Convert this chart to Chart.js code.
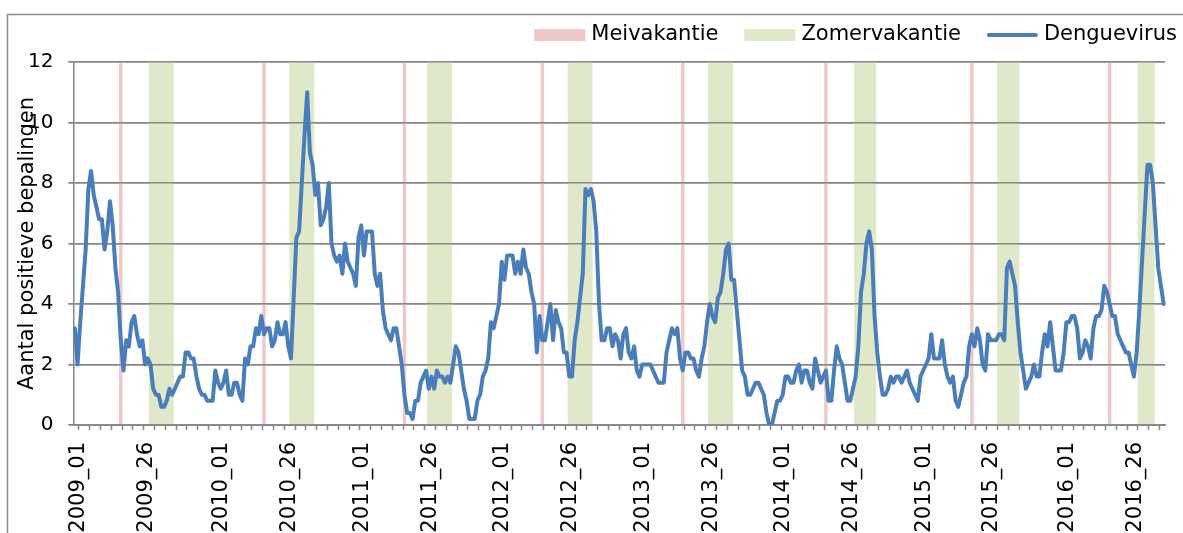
<!DOCTYPE html>
<html>
<head>
<meta charset="utf-8">
<script src="https://cdn.jsdelivr.net/npm/chart.js@4.4.1/dist/chart.umd.min.js"></script>
<style>
html,body{margin:0;padding:0;background:#fff;}
#wrap{width:1183px;height:533px;position:relative;}
</style>
</head>
<body>
<div id="wrap"><canvas id="c" width="1183" height="533"></canvas></div>
<script>
// ---- data ----
const years = [2009, 2010, 2011, 2012, 2013, 2014, 2015, 2016];
const weeksPerYear = [53, 52, 52, 52, 52, 52, 53, 38];
const xLabelWeeks = ['01', '26'];
const yTicks = [0, 2, 4, 6, 8, 10, 12];

const denguevirus = [
  3.2, 2.0, 3.4, 4.6, 5.8, 7.8, 8.4, 7.6, 7.2, 6.8,
  6.8, 5.8, 6.4, 7.4, 6.6, 5.2, 4.4, 2.8, 1.8, 2.8,
  2.6, 3.4, 3.6, 3.0, 2.6, 2.8, 2.0, 2.2, 2.0, 1.2,
  1.0, 1.0, 0.6, 0.6, 0.8, 1.2, 1.0, 1.2, 1.4, 1.6,
  1.6, 2.4, 2.4, 2.2, 2.2, 1.6, 1.2, 1.0, 1.0, 0.8,
  0.8, 0.8, 1.8, 1.4, 1.2, 1.4, 1.8, 1.0, 1.0, 1.4,
  1.4, 1.0, 0.8, 2.2, 2.0, 2.6, 2.6, 3.2, 3.0, 3.6,
  3.0, 3.2, 3.2, 2.6, 2.8, 3.4, 3.0, 3.0, 3.4, 2.6,
  2.2, 4.2, 6.2, 6.4, 8.0, 9.6, 11.0, 9.0, 8.6, 7.6,
  8.0, 6.6, 6.8, 7.2, 8.0, 6.0, 5.6, 5.4, 5.6, 5.0,
  6.0, 5.4, 5.2, 5.0, 4.6, 6.2, 6.6, 5.6, 6.4, 6.4,
  6.4, 5.0, 4.6, 5.0, 3.8, 3.2, 3.0, 2.8, 3.2, 3.2,
  2.6, 2.0, 1.0, 0.4, 0.4, 0.2, 0.8, 0.8, 1.4, 1.6,
  1.8, 1.2, 1.6, 1.2, 1.8, 1.6, 1.6, 1.4, 1.6, 1.4,
  2.0, 2.6, 2.4, 1.8, 1.2, 0.8, 0.2, 0.2, 0.2, 0.8,
  1.0, 1.6, 1.8, 2.2, 3.4, 3.2, 3.6, 4.0, 5.4, 4.8,
  5.6, 5.6, 5.6, 5.0, 5.4, 5.0, 5.8, 5.2, 5.0, 4.4,
  4.0, 2.4, 3.6, 2.8, 2.8, 3.4, 4.0, 2.8, 3.8, 3.4,
  3.2, 2.4, 2.4, 1.6, 1.6, 2.8, 3.4, 4.2, 5.0, 7.8,
  7.6, 7.8, 7.4, 6.4, 4.0, 2.8, 2.8, 3.2, 3.2, 2.6,
  3.0, 2.8, 2.2, 3.0, 3.2, 2.4, 2.2, 2.6, 1.8, 1.6,
  2.0, 2.0, 2.0, 2.0, 1.8, 1.6, 1.4, 1.4, 1.4, 2.4,
  2.8, 3.2, 3.0, 3.2, 2.2, 1.8, 2.4, 2.4, 2.2, 2.2,
  1.8, 1.6, 2.2, 2.6, 3.4, 4.0, 3.6, 3.4, 4.2, 4.4,
  5.0, 5.8, 6.0, 4.8, 4.8, 3.8, 2.8, 1.8, 1.6, 1.0,
  1.0, 1.2, 1.4, 1.4, 1.2, 1.0, 0.4, 0.0, 0.0, 0.4,
  0.8, 0.8, 1.0, 1.6, 1.6, 1.4, 1.4, 1.8, 2.0, 1.4,
  1.8, 1.8, 1.4, 1.2, 2.2, 1.8, 1.4, 1.6, 1.8, 0.8,
  0.8, 1.8, 2.6, 2.2, 2.0, 1.4, 0.8, 0.8, 1.2, 1.6,
  2.6, 4.4, 5.0, 6.0, 6.4, 5.8, 3.6, 2.4, 1.6, 1.0,
  1.0, 1.2, 1.6, 1.4, 1.6, 1.6, 1.4, 1.6, 1.8, 1.4,
  1.2, 1.0, 0.8, 1.6, 1.8, 2.0, 2.2, 3.0, 2.2, 2.2,
  2.2, 2.8, 2.0, 1.6, 1.4, 1.6, 0.8, 0.6, 1.0, 1.4,
  1.6, 2.6, 3.0, 2.6, 3.2, 2.8, 2.0, 1.8, 3.0, 2.8,
  2.8, 2.8, 3.0, 3.0, 2.8, 5.2, 5.4, 5.0, 4.6, 3.4,
  2.4, 1.8, 1.2, 1.4, 1.6, 2.0, 1.6, 1.6, 2.4, 3.0,
  2.6, 3.4, 2.6, 1.8, 1.8, 1.8, 2.4, 3.4, 3.4, 3.6,
  3.6, 3.2, 2.2, 2.4, 2.8, 2.6, 2.2, 3.2, 3.6, 3.6,
  3.8, 4.6, 4.4, 4.0, 3.6, 3.6, 3.0, 2.8, 2.6, 2.4,
  2.4, 2.0, 1.6, 2.4, 3.8, 5.4, 7.0, 8.6, 8.6, 8.0,
  6.6, 5.2, 4.6, 4.0
];

const meivakantie = ['2009_18', '2010_18', '2011_18', '2012_17', '2013_17', '2014_18', '2015_20', '2016_18'];
const zomerStart = ['2009_29', '2010_28', '2011_27', '2012_27', '2013_27', '2014_29', '2015_30', '2016_29'];
const zomerEnd   = ['2009_37', '2010_36', '2011_35', '2012_35', '2013_35', '2014_36', '2015_37', '2016_34'];
const vakantieHoogte = 12;

// ---- build ----
const labels = [];
years.forEach((y, k) => {
  for (let w = 1; w <= weeksPerYear[k]; w++) labels.push(y + '_' + String(w).padStart(2, '0'));
});
const meiData = labels.map(l => meivakantie.includes(l) ? vakantieHoogte : null);
const zomerData = labels.map(l => zomerStart.some((s, k) => l >= s && l <= zomerEnd[k]) ? vakantieHoogte : null);

const GRID = '#868686';
const FONT = 'DejaVu Sans';

const framePlugin = {
  id: 'frame',
  beforeDraw(chart) {
    const c = chart.ctx;
    c.save();
    c.fillStyle = '#fff';
    c.fillRect(0, 0, chart.width, chart.height);
    c.strokeStyle = '#8c8c8c';
    c.lineWidth = 1.5;
    c.strokeRect(7.5, 14.5, 1300, 700);
    c.restore();
  }
};

// redraw the value-axis gridlines over the holiday columns, under the line
const gridOverBars = {
  id: 'gridOverBars',
  beforeDatasetDraw(chart, args) {
    if (args.index === 0) {
      chart.scales.y.drawGrid(chart.chartArea);
      if (chart.scales.x.drawBorder) chart.scales.x.drawBorder();
    }
  }
};

const legendPlugin = {
  id: 'customLegend',
  afterDraw(chart) {
    const c = chart.ctx;
    const ds = chart.data.datasets;
    const items = [ds[1], ds[2], ds[0]];
    c.save();
    c.font = '21px "' + FONT + '"';
    c.textBaseline = 'middle';
    c.textAlign = 'left';
    const cy = 35;
    let xEnd = 1177;
    for (let k = items.length - 1; k >= 0; k--) {
      const d = items[k];
      const w = c.measureText(d.label).width;
      const tx = xEnd - w;
      c.fillStyle = '#000';
      c.fillText(d.label, tx, cy);
      const bx1 = tx - 6, bx0 = bx1 - 51;
      if (d.type === 'line') {
        c.strokeStyle = d.borderColor;
        c.lineWidth = 4;
        c.lineCap = 'round';
        c.beginPath(); c.moveTo(bx0 + 2, cy); c.lineTo(bx1 - 2, cy); c.stroke();
      } else {
        c.fillStyle = d.backgroundColor;
        c.fillRect(bx0, cy - 6, 51, 12);
      }
      xEnd = bx0 - 26;
    }
    c.restore();
  }
};

new Chart(document.getElementById('c'), {
  type: 'bar',
  data: {
    labels: labels,
    datasets: [
      { type: 'line', label: 'Denguevirus', data: denguevirus, borderColor: '#4A7EBB', backgroundColor: '#4A7EBB',
        borderWidth: 4, pointRadius: 0, tension: 0, order: 0, borderJoinStyle: 'round', borderCapStyle: 'round', fill: false },
      { type: 'bar', label: 'Meivakantie', data: meiData, backgroundColor: '#EDC8C8',
        barPercentage: 1, categoryPercentage: 1, grouped: false, borderWidth: 0, order: 2 },
      { type: 'bar', label: 'Zomervakantie', data: zomerData, backgroundColor: '#DFE8C9',
        barPercentage: 1, categoryPercentage: 1, grouped: false, borderWidth: 0, order: 1 }
    ]
  },
  options: {
    responsive: false,
    animation: false,
    devicePixelRatio: 1,
    layout: { padding: { left: 0, right: 18, top: 62, bottom: 0 } },
    plugins: { legend: { display: false }, tooltip: { enabled: false } },
    scales: {
      x: {
        offset: true,
        grid: {
          offset: true, drawOnChartArea: false, drawTicks: true, tickLength: 5, tickWidth: 1.5,
          tickColor: (ctx) => (ctx.index % 4 === 2 ? GRID : 'rgba(0,0,0,0)')
        },
        border: { display: true, color: GRID, width: 1.5 },
        ticks: {
          autoSkip: false, minRotation: 90, maxRotation: 90, padding: 12, labelOffset: 4, color: '#000',
          font: { family: FONT, size: 21 },
          callback: function (val) {
            const l = this.getLabelForValue(val);
            return xLabelWeeks.includes(l.slice(5)) ? l : '';
          }
        },
        afterFit: (s) => { s.height = 108; s.paddingLeft = 0; s.paddingRight = 0; }
      },
      y: {
        min: 0, max: 12,
        afterBuildTicks: (s) => { s.ticks = yTicks.map(v => ({ value: v })); },
        ticks: { padding: 15, color: '#000', font: { family: FONT, size: 20 } },
        grid: { color: GRID, lineWidth: 1.5, tickLength: 5, drawTicks: true },
        border: { display: true, color: GRID, width: 1.5 },
        title: { display: true, text: 'Aantal positieve bepalingen', color: '#000',
                 font: { family: FONT, size: 21 }, padding: { top: 15, bottom: 0 } },
        afterFit: (s) => { s.width = 73.5; }
      }
    }
  },
  plugins: [framePlugin, gridOverBars, legendPlugin]
});
</script>
</body>
</html>
